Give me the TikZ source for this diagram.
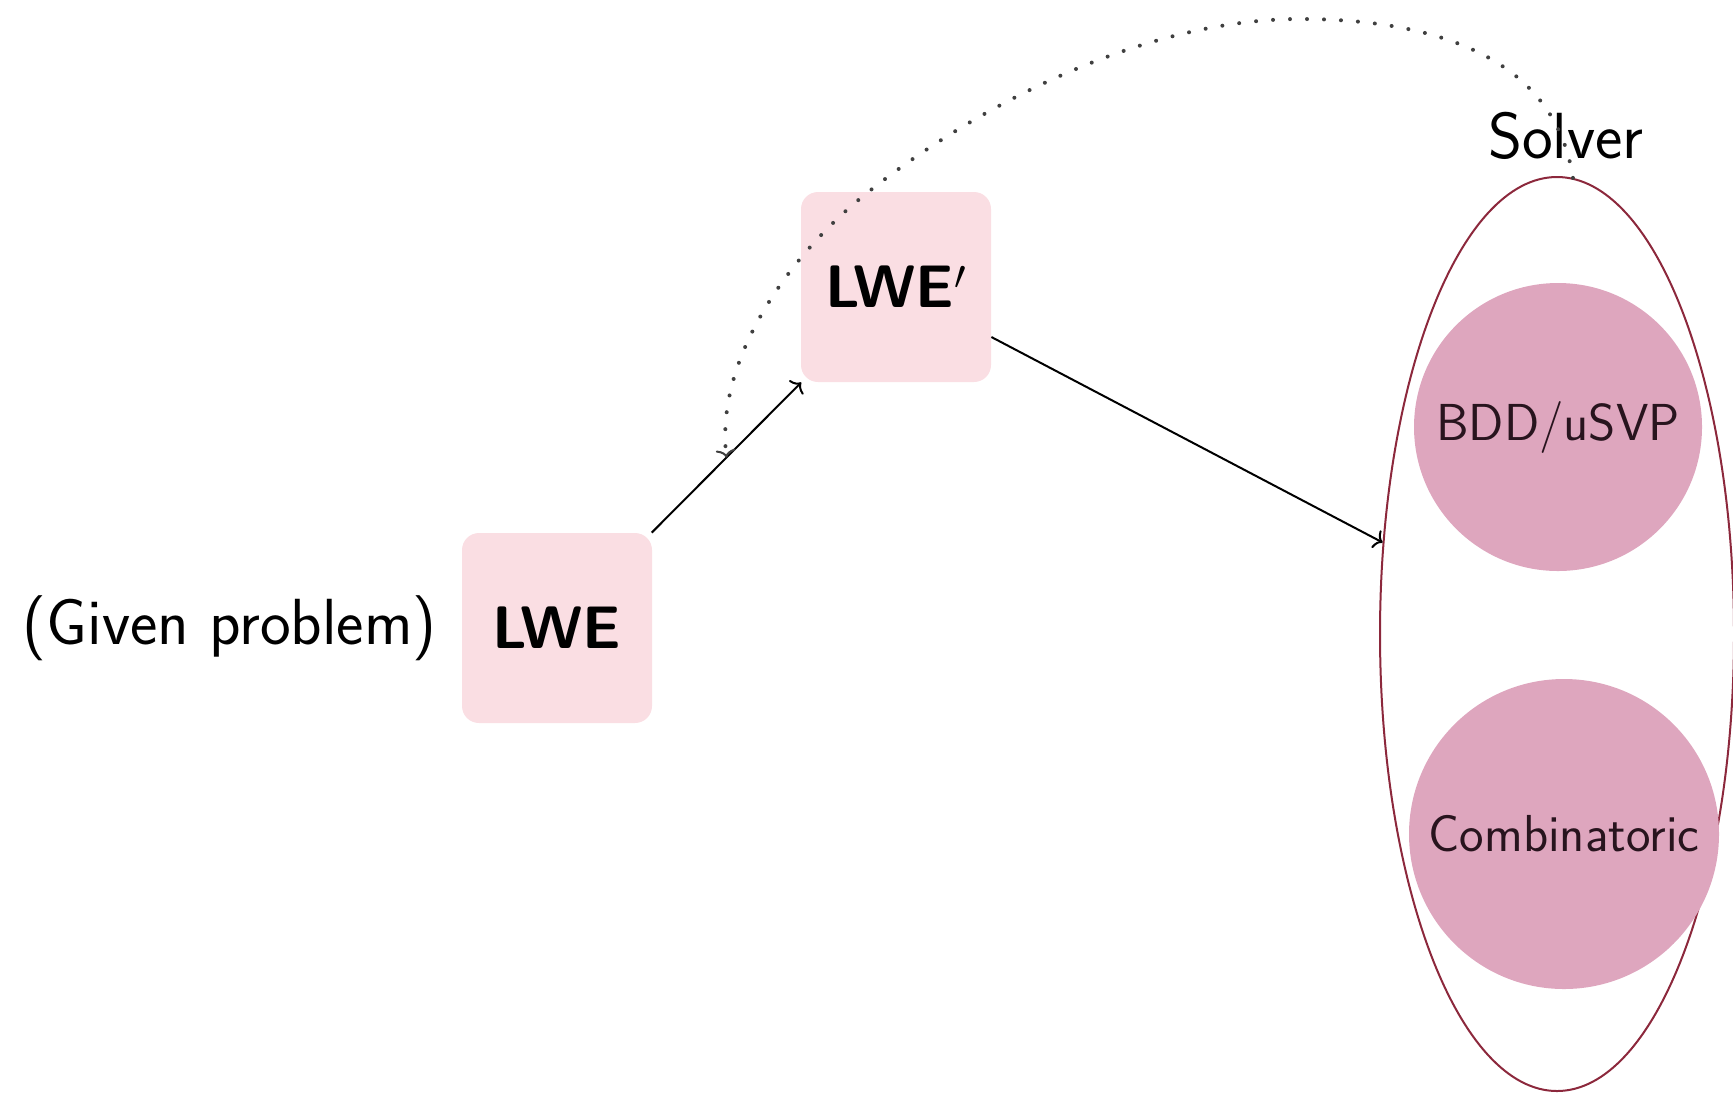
\documentclass[tikz,border=0pt]{standalone}
\usepackage{fontspec}
\usetikzlibrary{shapes.geometric,arrows.meta,calc}
\definecolor{boxpink}{RGB}{250,222,227}
\definecolor{circpink}{RGB}{222,166,190}
\definecolor{ellred}{RGB}{140,40,60}
\definecolor{circtext}{RGB}{40,20,30}
\begin{document}
\begin{tikzpicture}[x=0.5pt,y=-0.5pt,
  probbox/.style={rectangle, rounded corners=8.5pt, fill=boxpink, minimum size=95pt, inner sep=0pt, font=\sffamily\bfseries\fontsize{30}{36}\selectfont},
  method/.style={circle, fill=circpink, inner sep=0pt, text=circtext, font=\sffamily\fontsize{26}{30}\selectfont},
  plaintext/.style={font=\sffamily\fontsize{32.6}{38}\selectfont, inner sep=0pt},
  conn/.style={line width=1pt, -{To[length=4pt,width=10pt]}},
  dotconn/.style={line width=2pt, black!75, line cap=round, dash pattern=on 0pt off 8.5pt, -{To[length=4pt,width=10pt,line width=1pt]}}
]
\useasboundingbox (0,0) rectangle (1733,1094);
\node[probbox] (lwe) at (557,628) {LWE};
\node[probbox] (lwep) at (896,287) {LWE$'$};
\node[plaintext, anchor=east] (given) at (437,628) {(Given problem)};
\node[ellipse, draw=ellred, line width=1pt, minimum width=177pt, minimum height=457pt, inner sep=0pt] (solver) at (1557,634) {};
\node[plaintext] (solverlabel) at (1566,136) {Solver};
\node[method, minimum size=144pt] (bdd) at (1558,427) {BDD/uSVP};
\node[method, minimum size=155pt] (comb) at (1564,834) {Combinatoric};
\draw[conn] (lwe) -- (lwep);
\draw[conn] (lwep) -- (solver);
\coordinate (mid) at ($(lwe.north east)!0.5!(lwep.south west)$);
\coordinate (peak) at (1300,19);
\coordinate (bend) at (862,197);
\draw[dotconn] (solver.88) .. controls (1552,40) and (1400,19) .. (peak)
  .. controls (1150,19) and (982,100) .. (bend)
  .. controls (792,254) and (715,357) .. (mid);
\end{tikzpicture}
\end{document}
